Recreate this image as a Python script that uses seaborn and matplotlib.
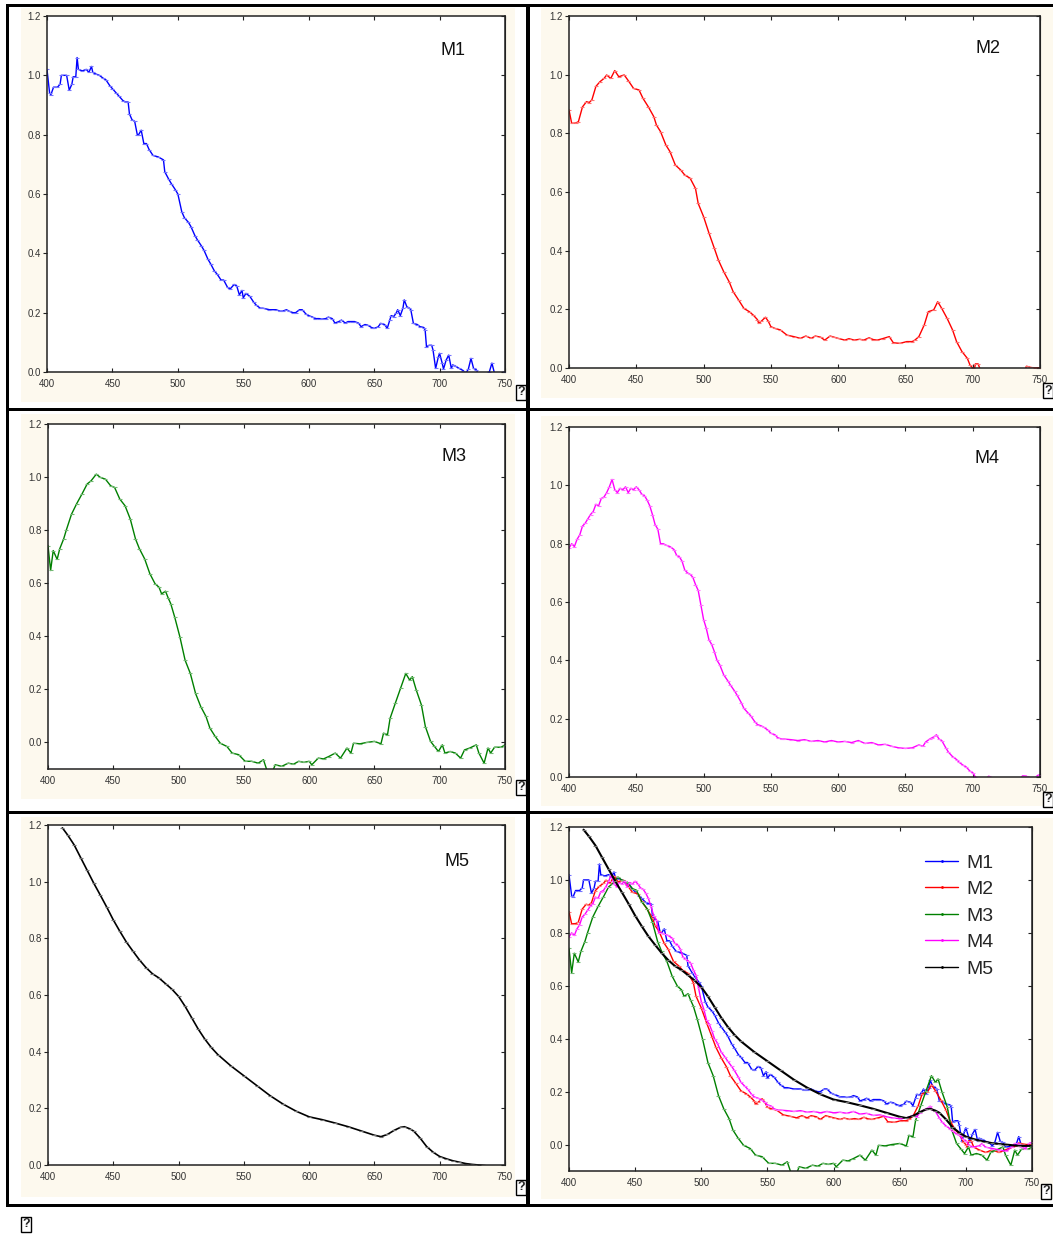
import numpy as np
import pandas as pd
import matplotlib
matplotlib.use("Agg")
import matplotlib.pyplot as plt
from matplotlib.patches import Rectangle
from matplotlib.lines import Line2D
from matplotlib.colors import to_rgb
import seaborn as sns

sns.set_style("white")
plt.rcParams["font.family"] = ["Liberation Sans", "DejaVu Sans"]

# ---- spectra (wavelength nm, relative value) ----
m1_nm = [400, 402, 403, 405, 408, 410, 411, 415, 417, 419, 420, 422, 423, 424, 427, 430, 432, 434, 435, 437,
         440, 443, 445, 448, 450, 453, 455, 458, 460, 462, 463, 465, 467, 469, 470, 472, 474, 476, 478, 481,
         485, 489, 490, 493, 495, 498, 500, 503, 505, 508, 510, 513, 515, 518, 520, 523, 525, 528, 530, 533,
         535, 538, 540, 543, 545, 547, 549, 550, 552, 555, 558, 560, 563, 565, 570, 575, 578, 580, 583, 585,
         588, 590, 593, 595, 598, 600, 603, 605, 608, 610, 613, 615, 618, 620, 623, 625, 628, 630, 633, 635,
         638, 640, 643, 645, 648, 650, 653, 655, 658, 660, 662, 663, 665, 667, 668, 670, 672, 673, 675, 677,
         678, 680, 683, 685, 688, 689, 690, 692, 694, 695, 697, 699, 700, 702, 703, 705, 707, 709, 710, 712,
         715, 718, 720, 722, 724, 726, 728, 730, 735, 738, 740, 742, 745, 750]
m1_val = [1.02, 0.94, 0.935, 0.96, 0.96, 0.97, 1.0, 1.0, 0.95, 0.97, 0.995, 0.995, 1.06, 1.02, 1.015, 1.02, 1.01, 1.03, 1.01, 1.005,
          1.0, 0.99, 0.985, 0.965, 0.955, 0.94, 0.93, 0.915, 0.91, 0.91, 0.87, 0.85, 0.845, 0.80, 0.80, 0.815, 0.77, 0.77, 0.75, 0.73,
          0.725, 0.715, 0.675, 0.65, 0.635, 0.615, 0.60, 0.54, 0.52, 0.505, 0.49, 0.46, 0.445, 0.425, 0.41, 0.38, 0.365, 0.34, 0.33, 0.31,
          0.31, 0.285, 0.28, 0.295, 0.29, 0.26, 0.275, 0.25, 0.265, 0.255, 0.235, 0.225, 0.215, 0.215, 0.21, 0.21, 0.205, 0.205, 0.21, 0.205,
          0.20, 0.20, 0.21, 0.21, 0.195, 0.19, 0.185, 0.18, 0.18, 0.178, 0.18, 0.185, 0.18, 0.165, 0.17, 0.175, 0.165, 0.17, 0.17, 0.17,
          0.165, 0.153, 0.16, 0.158, 0.15, 0.147, 0.152, 0.164, 0.16, 0.147, 0.175, 0.19, 0.187, 0.20, 0.21, 0.19, 0.215, 0.243, 0.22, 0.215,
          0.21, 0.164, 0.16, 0.153, 0.15, 0.14, 0.085, 0.09, 0.09, 0.074, 0.012, 0.05, 0.063, 0.03, 0.01, 0.04, 0.057, 0.012, 0.024, 0.02,
          0.012, 0.005, -0.005, 0.01, 0.046, 0.012, 0.008, -0.01, -0.005, 0.0, 0.03, -0.005, -0.005, 0.0]

m2_nm = [400, 402, 405, 407, 410, 413, 415, 417, 420, 423, 426, 428, 431, 434, 437, 441, 444, 448, 452, 455,
         459, 463, 465, 468, 472, 475, 479, 483, 486, 490, 494, 496, 500, 504, 508, 511, 515, 519, 522, 526,
         530, 534, 537, 540, 541, 543, 546, 548, 550, 553, 557, 562, 567, 572, 576, 580, 583, 587, 590, 594,
         597, 600, 605, 608, 612, 616, 619, 623, 626, 629, 633, 638, 641, 646, 651, 655, 657, 660, 664, 667,
         671, 674, 677, 681, 685, 688, 692, 696, 698, 700, 701, 702, 704, 706, 710, 715, 720, 725, 730, 735,
         739, 740, 743, 746, 750]
m2_val = [0.88, 0.834, 0.835, 0.84, 0.89, 0.908, 0.905, 0.914, 0.96, 0.976, 0.987, 0.999, 0.987, 1.014, 0.993, 0.999, 0.98, 0.953, 0.948, 0.919,
          0.89, 0.857, 0.828, 0.806, 0.76, 0.738, 0.692, 0.675, 0.658, 0.647, 0.612, 0.561, 0.516, 0.46, 0.408, 0.368, 0.328, 0.294, 0.26, 0.232,
          0.203, 0.192, 0.18, 0.165, 0.152, 0.16, 0.173, 0.16, 0.141, 0.135, 0.13, 0.112, 0.107, 0.101, 0.109, 0.101, 0.109, 0.105, 0.095, 0.109,
          0.105, 0.101, 0.095, 0.10, 0.095, 0.098, 0.095, 0.103, 0.097, 0.095, 0.10, 0.107, 0.086, 0.084, 0.09, 0.09, 0.095, 0.107, 0.147, 0.192,
          0.198, 0.226, 0.203, 0.169, 0.13, 0.09, 0.056, 0.033, 0.01, 0.0, -0.01, 0.014, 0.014, -0.01, -0.02, -0.03, -0.02, -0.03, -0.02, -0.01,
          -0.005, 0.006, 0.002, 0.0, 0.001]

m3_nm = [400, 402, 404, 407, 409, 412, 414, 418, 422, 426, 430, 433, 437, 440, 444, 448, 451, 455, 459, 463,
         467, 470, 474, 478, 482, 485, 487, 490, 492, 494, 497, 501, 505, 509, 513, 517, 521, 524, 528, 532,
         537, 541, 546, 551, 556, 561, 565, 568, 572, 574, 579, 584, 588, 592, 596, 600, 602, 607, 611, 615,
         620, 624, 629, 632, 634, 639, 644, 650, 655, 657, 660, 662, 666, 670, 674, 677, 679, 682, 686, 689,
         693, 696, 699, 702, 704, 708, 712, 716, 719, 723, 728, 730, 734, 737, 739, 742, 747, 750]
m3_val = [0.742, 0.648, 0.723, 0.69, 0.73, 0.767, 0.80, 0.86, 0.90, 0.936, 0.974, 0.986, 1.011, 0.999, 0.992, 0.967, 0.961, 0.917, 0.892, 0.842,
          0.767, 0.73, 0.692, 0.636, 0.598, 0.585, 0.56, 0.57, 0.545, 0.523, 0.473, 0.398, 0.31, 0.26, 0.185, 0.135, 0.098, 0.054, 0.023, -0.003,
          -0.015, -0.04, -0.046, -0.071, -0.071, -0.078, -0.065, -0.11, -0.11, -0.084, -0.09, -0.078, -0.082, -0.071, -0.075, -0.071, -0.084, -0.059, -0.062, -0.053,
          -0.04, -0.059, -0.021, -0.04, -0.003, -0.005, 0.0, 0.004, -0.005, 0.035, 0.029, 0.091, 0.148, 0.204, 0.26, 0.235, 0.248, 0.198, 0.141, 0.06,
          0.004, -0.015, -0.034, -0.009, -0.04, -0.034, -0.04, -0.059, -0.028, -0.021, -0.009, -0.04, -0.078, -0.021, -0.04, -0.018, -0.018, -0.009]

m4_nm = [400, 402, 404, 406, 408, 410, 412, 414, 416, 418, 420, 422, 424, 426, 428, 430, 432, 434, 436, 438,
         440, 442, 444, 446, 448, 450, 452, 454, 456, 458, 460, 462, 464, 466, 468, 470, 472, 475, 478, 480,
         482, 484, 486, 488, 490, 492, 494, 496, 498, 500, 502, 504, 506, 508, 510, 512, 515, 518, 520, 523,
         525, 528, 530, 533, 535, 538, 540, 543, 545, 548, 550, 553, 555, 558, 560, 565, 570, 575, 580, 585,
         590, 595, 600, 605, 610, 615, 620, 625, 630, 635, 640, 645, 650, 655, 660, 663, 665, 668, 670, 672,
         673, 675, 677, 680, 682, 685, 688, 690, 693, 695, 698, 700, 702, 705, 710, 712, 715, 720, 725, 730,
         735, 737, 740, 742, 745, 748, 750]
m4_val = [0.785, 0.80, 0.79, 0.815, 0.83, 0.86, 0.87, 0.885, 0.90, 0.91, 0.935, 0.93, 0.955, 0.96, 0.975, 0.995, 1.02, 0.985, 0.975, 0.99,
          0.985, 0.995, 0.975, 0.99, 0.985, 0.995, 0.985, 0.97, 0.965, 0.95, 0.93, 0.90, 0.865, 0.85, 0.80, 0.80, 0.795, 0.79, 0.78, 0.76,
          0.755, 0.74, 0.71, 0.70, 0.695, 0.685, 0.66, 0.64, 0.59, 0.54, 0.51, 0.47, 0.455, 0.43, 0.40, 0.385, 0.35, 0.33, 0.315, 0.295,
          0.28, 0.255, 0.235, 0.22, 0.21, 0.19, 0.18, 0.175, 0.17, 0.16, 0.15, 0.145, 0.135, 0.13, 0.13, 0.128, 0.125, 0.128, 0.122, 0.125,
          0.12, 0.125, 0.12, 0.122, 0.118, 0.125, 0.115, 0.118, 0.11, 0.112, 0.105, 0.10, 0.098, 0.10, 0.11, 0.105, 0.12, 0.13, 0.135, 0.14,
          0.145, 0.13, 0.125, 0.10, 0.085, 0.07, 0.06, 0.05, 0.04, 0.035, 0.02, 0.015, 0.0, -0.01, -0.005, 0.003, -0.01, -0.015, -0.02, -0.025,
          -0.01, 0.004, 0.003, -0.01, -0.015, 0.005, 0.008]

m5_nm = [411, 415, 420, 425, 430, 435, 440, 445, 450, 455, 460, 465, 470, 475, 480, 485, 490, 495, 500, 505,
         510, 515, 520, 525, 530, 540, 550, 560, 570, 580, 590, 600, 610, 620, 630, 640, 650, 655, 660, 665,
         670, 673, 677, 680, 685, 690, 695, 700, 705, 710, 715, 720, 725, 730, 740, 750]
m5_val = [1.19, 1.165, 1.13, 1.085, 1.04, 0.995, 0.953, 0.91, 0.865, 0.825, 0.787, 0.755, 0.724, 0.697, 0.675, 0.66, 0.64, 0.62, 0.595, 0.56,
          0.52, 0.48, 0.445, 0.415, 0.39, 0.35, 0.315, 0.28, 0.245, 0.215, 0.19, 0.17, 0.16, 0.148, 0.135, 0.12, 0.105, 0.10, 0.108, 0.122,
          0.133, 0.135, 0.128, 0.12, 0.095, 0.065, 0.045, 0.03, 0.022, 0.015, 0.01, 0.005, 0.002, 0.0, -0.005, -0.005]

series_names = ["M1", "M2", "M3", "M4", "M5"]
series_nm = [m1_nm, m2_nm, m3_nm, m4_nm, m5_nm]
series_val = [m1_val, m2_val, m3_val, m4_val, m5_val]
series_colors = {"M1": "#0000FF", "M2": "#FF0000", "M3": "#008000", "M4": "#FF00FF", "M5": "#000000"}

x_ticks = [400, 450, 500, 550, 600, 650, 700, 750]
y_ticks = [0.0, 0.2, 0.4, 0.6, 0.8, 1.0, 1.2]

frames = []
for name, nm, val in zip(series_names, series_nm, series_val):
    frames.append(pd.DataFrame({"nm": nm, "value": val, "series": name}))
data = pd.concat(frames, ignore_index=True)

W, H = 1053, 1234
fig = plt.figure(figsize=(W / 100, H / 100), dpi=100)
fig.patch.set_facecolor("white")


def rect(x0, y0, x1, y1):
    return [x0 / W, 1 - y1 / H, (x1 - x0) / W, (y1 - y0) / H]


def fig_box(x0, y0, x1, y1, color, z):
    r = rect(x0, y0, x1, y1)
    fig.patches.append(Rectangle((r[0], r[1]), r[2], r[3], transform=fig.transFigure,
                                 facecolor=color, edgecolor="none", zorder=z))


cream = "#FDF9EE"
# cell backgrounds
for box in [(21, 8, 515, 402), (541, 8, 1053, 398), (21, 414, 515, 799), (541, 416, 1053, 806),
            (21, 817, 515, 1197), (541, 818, 1053, 1199)]:
    fig_box(*box, cream, -5)
# cell dividers
for box in [(6, 4, 1053, 7), (6, 4, 9, 1207), (526, 4, 530, 1207), (6, 408, 1053, 411),
            (6, 811, 1053, 814), (6, 1204, 1053, 1207)]:
    fig_box(*box, "black", 5)

axes_px = {
    "M1": (47, 16, 505, 372, 0.0),
    "M2": (569, 16, 1040, 368, 0.0),
    "M3": (48, 424, 505, 769, -0.1),
    "M4": (569, 427, 1040, 777, 0.0),
    "M5": (48, 825, 505, 1165, 0.0),
    "ALL": (569, 827, 1032, 1171, -0.1),
}
title_pos = {"M1": (0.886, 0.902), "M2": (0.89, 0.909), "M3": (0.888, 0.907),
             "M4": (0.887, 0.909), "M5": (0.895, 0.894)}


def style_axes(ax, ymin):
    ax.set_xlim(400, 750)
    ax.set_ylim(ymin, 1.2)
    ax.set_facecolor("white")
    ax.set_xticks(x_ticks)
    ax.set_xticklabels([str(t) for t in x_ticks])
    ax.set_yticks(y_ticks)
    ax.set_yticklabels([f"{t:.1f}" for t in y_ticks])
    ax.set_xlabel("")
    ax.set_ylabel("")
    for s in ax.spines.values():
        s.set_visible(True)
        s.set_color("#222222")
        s.set_linewidth(1.1)
    ax.tick_params(axis="x", direction="in", top=True, bottom=True, length=3, width=0.8,
                   labelsize=7, labelcolor="#333333", pad=5, color="#222222")
    ax.tick_params(axis="y", direction="out", left=True, right=False, length=3, width=0.8,
                   labelsize=7, labelcolor="#333333", pad=1.5, color="#222222")
    sec = ax.secondary_yaxis("right")
    sec.set_yticks(y_ticks)
    sec.tick_params(direction="in", length=3, width=0.8, labelright=False, color="#222222")
    sec.spines["right"].set_color("#222222")


def tint(col, k):
    r, g, b = to_rgb(col)
    return (r + (1 - r) * k, g + (1 - g) * k, b + (1 - b) * k)


def draw_series(ax, name, lw):
    sub = data[data["series"] == name]
    col = series_colors[name]
    sns.lineplot(data=sub, x="nm", y="value", ax=ax, color=col, lw=lw, sort=False,
                 estimator=None, marker="_", markersize=3, markeredgewidth=0.8,
                 markeredgecolor=tint(col, 0.45))


for name in series_names:
    x0, y0, x1, y1, ymin = axes_px[name]
    ax = fig.add_axes(rect(x0, y0, x1, y1))
    draw_series(ax, name, 1.0 if name != "M5" else 1.2)
    style_axes(ax, ymin)
    tx, ty = title_pos[name]
    ax.text(tx, ty, name, transform=ax.transAxes, ha="center", va="center", fontsize=13, color="#111111")

x0, y0, x1, y1, ymin = axes_px["ALL"]
ax = fig.add_axes(rect(x0, y0, x1, y1))
for name in series_names:
    draw_series(ax, name, 1.0 if name != "M5" else 1.5)
style_axes(ax, ymin)
handles = [Line2D([0], [0], color=series_colors[n], lw=1.0, marker=".", markersize=2) for n in series_names]
ax.legend(handles, series_names, loc="upper left",
          bbox_to_anchor=((925 - x0) / (x1 - x0), (1 - (854 - y0) / (y1 - y0))),
          frameon=False, fontsize=14, handlelength=1.7, handletextpad=0.42, labelspacing=0.46,
          borderaxespad=0, borderpad=0)

# placeholder boxes
for (px, py) in [(521, 392), (1048, 391), (521, 787), (1048, 799), (521, 1187), (1046, 1191), (26, 1224)]:
    fig.text(px / W, 1 - py / H, "?", ha="center", va="center", fontsize=9, fontweight="bold",
             bbox=dict(boxstyle="square,pad=0.12", facecolor="white", edgecolor="black", lw=1.0), zorder=10)

fig.savefig("out.png", dpi=100, facecolor="white")
